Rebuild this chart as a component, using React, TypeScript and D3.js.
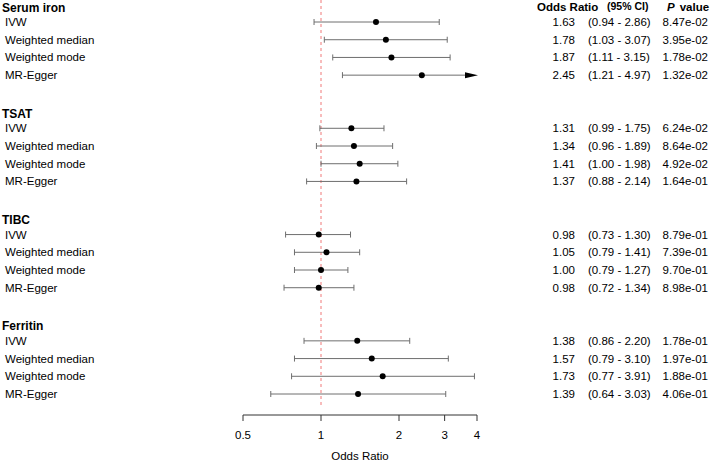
import React from "react";
import * as d3 from "d3";

const groups = ["Serum iron", "TSAT", "TIBC", "Ferritin"];
const methods = ["IVW", "Weighted median", "Weighted mode", "MR-Egger"];

const orSerum = [1.63, 1.78, 1.87, 2.45];
const loSerum = [0.94, 1.03, 1.11, 1.21];
const hiSerum = [2.86, 3.07, 3.15, 4.97];
const pSerum = ["8.47e-02", "3.95e-02", "1.78e-02", "1.32e-02"];

const orTsat = [1.31, 1.34, 1.41, 1.37];
const loTsat = [0.99, 0.96, 1.0, 0.88];
const hiTsat = [1.75, 1.89, 1.98, 2.14];
const pTsat = ["6.24e-02", "8.64e-02", "4.92e-02", "1.64e-01"];

const orTibc = [0.98, 1.05, 1.0, 0.98];
const loTibc = [0.73, 0.79, 0.79, 0.72];
const hiTibc = [1.3, 1.41, 1.27, 1.34];
const pTibc = ["8.79e-01", "7.39e-01", "9.70e-01", "8.98e-01"];

const orFerr = [1.38, 1.57, 1.73, 1.39];
const loFerr = [0.86, 0.79, 0.77, 0.64];
const hiFerr = [2.2, 3.1, 3.91, 3.03];
const pFerr = ["1.78e-01", "1.97e-01", "1.88e-01", "4.06e-01"];

const xTicks = [0.5, 1, 2, 3, 4];

const seriesOr = [orSerum, orTsat, orTibc, orFerr];
const seriesLo = [loSerum, loTsat, loTibc, loFerr];
const seriesHi = [hiSerum, hiTsat, hiTibc, hiFerr];
const seriesP = [pSerum, pTsat, pTibc, pFerr];

export default function App() {
  const W = 710, H = 461;
  const x = d3.scaleLog().domain([0.5, 4]).range([243, 477]);
  const rowY = d3.scaleLinear().domain([0, 22]).range([4.3, 394]);
  const font = "'Liberation Sans', Arial, sans-serif";
  const fs = 11.5;
  const axisY = 415;
  const lineColor = "#6e6e6e";
  const headY = (i: number) => rowY(i) + 3;

  const rows: React.ReactNode[] = [];
  groups.forEach((g, gi) => {
    const base = gi * 6;
    rows.push(
      <text key={`h${gi}`} x={2} y={headY(base)} dy="0.35em" fontWeight="bold" fontSize={12}>
        {g}
      </text>
    );
    methods.forEach((m, mi) => {
      const y = rowY(base + 1 + mi);
      const or = seriesOr[gi][mi];
      const lo = seriesLo[gi][mi];
      const hi = seriesHi[gi][mi];
      const clipped = hi > 4;
      const x1 = x(Math.max(lo, 0.5));
      const x2 = x(Math.min(hi, 4));
      rows.push(
        <g key={`r${gi}-${mi}`}>
          <text x={5} y={y} dy="0.35em" fontSize={fs}>{m}</text>
          <line x1={x1} x2={clipped ? x2 - 6 : x2} y1={y} y2={y} stroke={lineColor} strokeWidth={1} />
          <line x1={x1} x2={x1} y1={y - 3} y2={y + 3} stroke={lineColor} strokeWidth={1} />
          {clipped ? (
            <polygon points={`${x2 - 12},${y - 3} ${x2 + 1},${y} ${x2 - 12},${y + 3}`} fill="#000" />
          ) : (
            <line x1={x2} x2={x2} y1={y - 3} y2={y + 3} stroke={lineColor} strokeWidth={1} />
          )}
          <circle cx={x(or)} cy={y} r={3} fill="#000" />
          <text x={575} y={y} dy="0.35em" fontSize={fs} textAnchor="end">{or.toFixed(2)}</text>
          <text x={588} y={y} dy="0.35em" fontSize={fs}>{`(${lo.toFixed(2)} - ${hi.toFixed(2)})`}</text>
          <text x={708} y={y} dy="0.35em" fontSize={fs} textAnchor="end">{seriesP[gi][mi]}</text>
        </g>
      );
    });
  });

  return (
    <svg width={W} height={H} style={{ position: "absolute", left: 0, top: 0, background: "#fff" }} fontFamily={font}>
      <line x1={x(1)} x2={x(1)} y1={0} y2={405} stroke="#f07878" strokeWidth={1} strokeDasharray="3,3" />
      {rows}
      <text x={537} y={headY(0)} dy="0.35em" fontSize={11.5} fontWeight="bold">Odds Ratio</text>
      <text x={607} y={headY(0) - 1} dy="0.35em" fontSize={10.5} fontWeight="bold">(95% CI)</text>
      <text x={667} y={headY(0)} dy="0.35em" fontSize={11.5} fontWeight="bold">
        <tspan fontStyle="italic">P</tspan>
        <tspan dx={5}>value</tspan>
      </text>
      <line x1={x(0.5)} x2={x(4)} y1={axisY} y2={axisY} stroke="#333" strokeWidth={1} />
      {xTicks.map((t) => (
        <g key={t}>
          <line x1={x(t)} x2={x(t)} y1={axisY} y2={axisY + 6} stroke="#333" strokeWidth={1} />
          <text x={x(t)} y={435} dy="0.35em" fontSize={fs} textAnchor="middle">{String(t)}</text>
        </g>
      ))}
      <text x={(x(0.5) + x(4)) / 2} y={456} dy="0.35em" fontSize={fs} textAnchor="middle">Odds Ratio</text>
    </svg>
  );
}
